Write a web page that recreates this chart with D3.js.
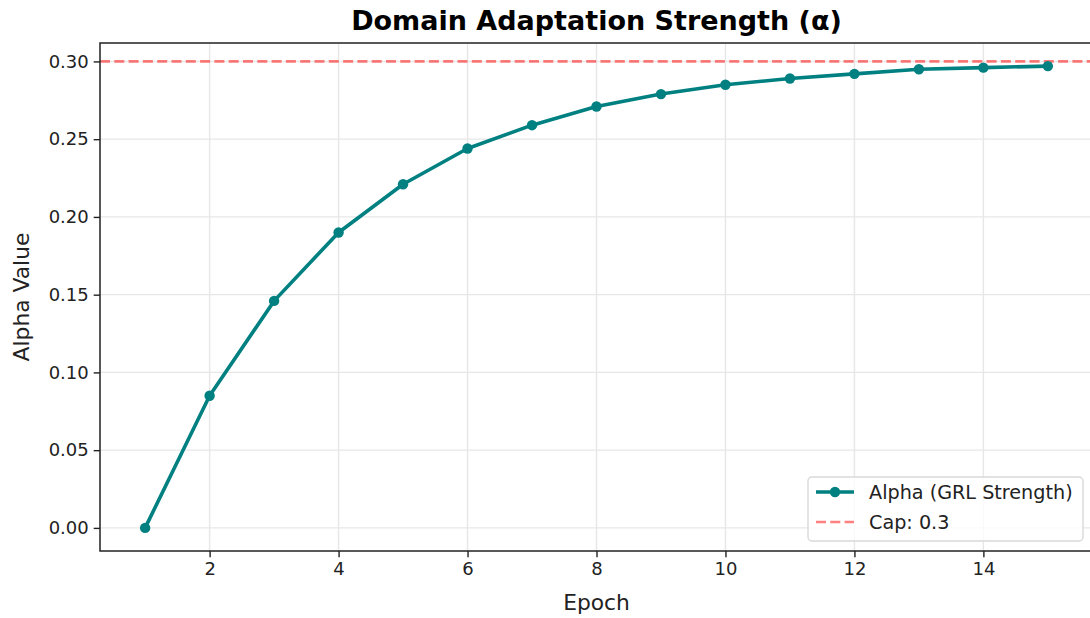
<!DOCTYPE html>
<html>
<head>
<meta charset="utf-8">
<script src="https://cdn.jsdelivr.net/npm/d3@7"></script>
<style>
  body { margin: 0; background: #fff; }
  svg { display: block; font-family: "DejaVu Sans", sans-serif; }
</style>
</head>
<body>
<div id="chart"></div>
<script>
// 数据：每个 epoch 的 alpha 值
const epochs = [1, 2, 3, 4, 5, 6, 7, 8, 9, 10, 11, 12, 13, 14, 15]
const alphaValues = [0.000, 0.085, 0.146, 0.190, 0.221, 0.244, 0.259, 0.271, 0.279, 0.285, 0.289, 0.292, 0.295, 0.296, 0.297]
const capValue = 0.3
const xTickValues = [2, 4, 6, 8, 10, 12, 14]
const yTickValues = [0.00, 0.05, 0.10, 0.15, 0.20, 0.25, 0.30]
const legendLabels = ['Alpha (GRL Strength)', 'Cap: 0.3']

const W = 1090
const H = 618
// 绘图区域
const plot = { left: 100, right: 1093, top: 43, bottom: 551 }

const teal = '#008080'
const capColor = 'rgba(255,0,0,0.5)'
const gridColor = '#e7e7e7'

const svg = d3.select('#chart').append('svg')
  .attr('width', W)
  .attr('height', H)

// matplotlib 默认留 5% 边距
const xPad = (d3.max(epochs) - d3.min(epochs)) * 0.05
const yPad = (d3.max(alphaValues) - d3.min(alphaValues)) * 0.05

const x = d3.scaleLinear()
  .domain([d3.min(epochs) - xPad, d3.max(epochs) + xPad])
  .range([plot.left, plot.right])
const y = d3.scaleLinear()
  .domain([d3.min(alphaValues) - yPad, d3.max(alphaValues) + yPad])
  .range([plot.bottom, plot.top])

// 网格线
const gGrid = svg.append('g').attr('class', 'grid')
gGrid.selectAll('line.gx').data(xTickValues).enter().append('line')
  .attr('class', 'gx')
  .attr('x1', d => x(d)).attr('x2', d => x(d))
  .attr('y1', plot.top).attr('y2', plot.bottom)
  .attr('stroke', gridColor).attr('stroke-width', 1.4)
gGrid.selectAll('line.gy').data(yTickValues).enter().append('line')
  .attr('class', 'gy')
  .attr('x1', plot.left).attr('x2', plot.right)
  .attr('y1', d => y(d)).attr('y2', d => y(d))
  .attr('stroke', gridColor).attr('stroke-width', 1.4)

// 上限虚线
svg.append('line')
  .attr('x1', plot.left).attr('x2', plot.right)
  .attr('y1', y(capValue)).attr('y2', y(capValue))
  .attr('stroke', capColor)
  .attr('stroke-width', 2.7)
  .attr('stroke-dasharray', '10,4.3')

// 折线
const line = d3.line()
  .x((d, i) => x(epochs[i]))
  .y(d => y(d))
svg.append('path')
  .datum(alphaValues)
  .attr('fill', 'none')
  .attr('stroke', teal)
  .attr('stroke-width', 3.6)
  .attr('stroke-linejoin', 'round')
  .attr('stroke-linecap', 'round')
  .attr('d', line)

svg.append('g').selectAll('circle').data(alphaValues).enter().append('circle')
  .attr('cx', (d, i) => x(epochs[i]))
  .attr('cy', d => y(d))
  .attr('r', 5.2)
  .attr('fill', teal)

// 坐标轴
const xAxis = d3.axisBottom(x).tickValues(xTickValues).tickSize(6.3).tickPadding(5).tickFormat(d3.format('d'))
const yAxis = d3.axisLeft(y).tickValues(yTickValues).tickSize(6.3).tickPadding(5).tickFormat(d3.format('.2f'))

const gx = svg.append('g').attr('transform', `translate(0,${plot.bottom})`).call(xAxis)
const gy = svg.append('g').attr('transform', `translate(${plot.left},0)`).call(yAxis)
;[gx, gy].forEach(g => {
  g.select('.domain').remove()
  g.selectAll('.tick line').attr('stroke', '#222').attr('stroke-width', 1.4)
  g.selectAll('.tick text').attr('fill', '#222').style('font-size', '18px').style('font-family', 'DejaVu Sans')
})

// 边框（右侧在画面外）
svg.append('rect')
  .attr('x', plot.left).attr('y', plot.top)
  .attr('width', plot.right - plot.left).attr('height', plot.bottom - plot.top)
  .attr('fill', 'none').attr('stroke', '#222').attr('stroke-width', 1.5)

// 标题和轴标签
svg.append('text')
  .attr('x', (plot.left + plot.right) / 2).attr('y', 30)
  .attr('text-anchor', 'middle')
  .style('font-size', '27px').style('font-weight', 'bold')
  .attr('fill', '#000')
  .text('Domain Adaptation Strength (α)')

svg.append('text')
  .attr('x', (plot.left + plot.right) / 2).attr('y', 610)
  .attr('text-anchor', 'middle')
  .style('font-size', '21.8px')
  .attr('fill', '#222')
  .text('Epoch')

svg.append('text')
  .attr('transform', `translate(28.5,${(plot.top + plot.bottom) / 2}) rotate(-90)`)
  .attr('text-anchor', 'middle')
  .style('font-size', '21.8px')
  .attr('fill', '#222')
  .text('Alpha Value')

// 图例
const lg = svg.append('g').attr('transform', 'translate(808,477)')
lg.append('rect')
  .attr('width', 275).attr('height', 64)
  .attr('rx', 4)
  .attr('fill', 'rgba(255,255,255,0.8)')
  .attr('stroke', '#d9d9d9').attr('stroke-width', 1.4)

lg.append('line')
  .attr('x1', 8).attr('x2', 46).attr('y1', 15).attr('y2', 15)
  .attr('stroke', teal).attr('stroke-width', 3.6)
lg.append('circle').attr('cx', 27).attr('cy', 15).attr('r', 5.2).attr('fill', teal)
lg.append('line')
  .attr('x1', 8).attr('x2', 46).attr('y1', 45).attr('y2', 45)
  .attr('stroke', capColor).attr('stroke-width', 2.7)
  .attr('stroke-dasharray', '10,4.3')

lg.selectAll('text.lab').data(legendLabels).enter().append('text')
  .attr('class', 'lab')
  .attr('x', 61)
  .attr('y', (d, i) => 15 + i * 30)
  .attr('dy', '0.35em')
  .style('font-size', '19.2px')
  .attr('fill', '#222')
  .text(d => d)
</script>
</body>
</html>
